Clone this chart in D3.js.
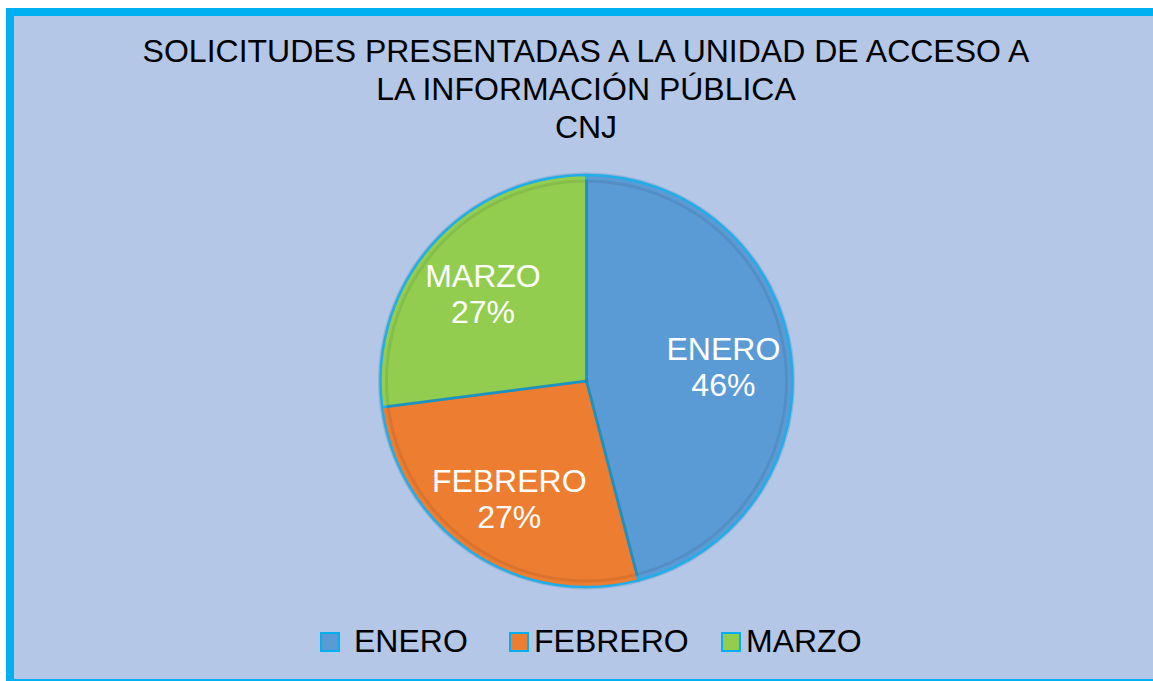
<!DOCTYPE html>
<html>
<head>
<meta charset="utf-8">
<script src="https://cdn.jsdelivr.net/npm/d3@7"></script>
<style>
  body { margin: 0; background: #fff; }
  text { font-family: "Liberation Sans", Arial, sans-serif; }
</style>
</head>
<body>
<div id="chart"></div>
<script>
// datos del grafico
const meses = ["ENERO", "FEBRERO", "MARZO"];
const solicitudes = [17, 10, 10];
const colores = ["#5B9BD5", "#ED7D31", "#92CD50"];
const titulo = ["SOLICITUDES PRESENTADAS A LA UNIDAD DE ACCESO A", "LA INFORMACIÓN PÚBLICA", "CNJ"];

const width = 1153, height = 681;
const svg = d3.select("#chart").append("svg")
    .attr("width", width)
    .attr("height", height);

// fondo y marco
svg.append("rect")
    .attr("x", 10).attr("y", 12)
    .attr("width", 1160).attr("height", 671)
    .attr("fill", "#B4C7E7")
    .attr("stroke", "#00B0F0")
    .attr("stroke-width", 8);

// titulo
svg.append("g").selectAll("text")
    .data(titulo)
    .enter()
    .append("text")
    .attr("x", 586)
    .attr("y", (d, i) => 62 + i * 38)
    .attr("text-anchor", "middle")
    .attr("font-size", "32px")
    .attr("fill", "#000")
    .text(d => d);

const cx = 586.5, cy = 381, radius = 206;
const total = d3.sum(solicitudes);

const pie = d3.pie().sort(null).value(d => d.v);
const datos = meses.map((m, i) => ({ m: m, v: solicitudes[i], c: colores[i] }));
const arcos = pie(datos);

const arc = d3.arc().innerRadius(0).outerRadius(radius);
const arcLabel = d3.arc().innerRadius(138).outerRadius(138);

const g = svg.append("g").attr("transform", `translate(${cx}, ${cy})`);

// sombra exterior
g.append("circle")
    .attr("r", radius + 1.5)
    .attr("fill", "none")
    .attr("stroke", "#7F9CC9")
    .attr("stroke-width", 2)
    .attr("opacity", 0.5);

g.selectAll("path.slice")
    .data(arcos)
    .enter()
    .append("path")
    .attr("class", "slice")
    .attr("d", arc)
    .attr("fill", d => d.data.c)
    .attr("stroke", "#1FAEE8")
    .attr("stroke-width", 2.5);

// efecto bisel interior
const arcInner = d3.arc().innerRadius(0).outerRadius(radius - 6);
g.selectAll("path.bevel")
    .data(arcos)
    .enter()
    .append("path")
    .attr("class", "bevel")
    .attr("d", arcInner)
    .attr("fill", "none")
    .attr("stroke", "#000")
    .attr("stroke-opacity", 0.08)
    .attr("stroke-width", 3);

// etiquetas
const etiquetas = g.selectAll("g.label")
    .data(arcos)
    .enter()
    .append("g")
    .attr("class", "label")
    .attr("transform", d => `translate(${arcLabel.centroid(d)})`);

etiquetas.append("text")
    .attr("text-anchor", "middle")
    .attr("y", -3)
    .attr("font-size", "32px")
    .attr("fill", "#fff")
    .text(d => d.data.m);

etiquetas.append("text")
    .attr("text-anchor", "middle")
    .attr("y", 33)
    .attr("font-size", "32px")
    .attr("fill", "#fff")
    .text(d => Math.round(d.data.v / total * 100) + "%");

// leyenda
const leyendaX = [320, 509, 721];
const leyenda = svg.append("g").selectAll("g")
    .data(datos)
    .enter()
    .append("g")
    .attr("transform", (d, i) => `translate(${leyendaX[i]}, 632)`);

leyenda.append("rect")
    .attr("x", 1).attr("y", 1)
    .attr("width", 18).attr("height", 18)
    .attr("fill", d => d.c)
    .attr("stroke", "#00B0F0")
    .attr("stroke-width", 2);

leyenda.append("text")
    .attr("x", (d, i) => i === 0 ? 34 : 25)
    .attr("y", 20)
    .attr("font-size", "32px")
    .attr("fill", "#000")
    .text(d => d.m);
</script>
</body>
</html>
